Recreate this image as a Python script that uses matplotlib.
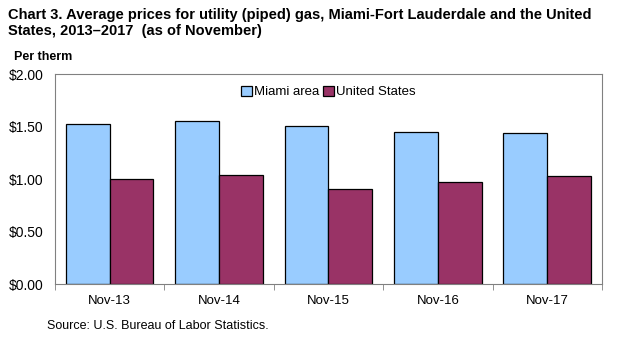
import matplotlib.pyplot as plt
import numpy as np

plt.rcParams['font.family'] = ['Liberation Sans', 'DejaVu Sans']

# data
categories = ['Nov-13', 'Nov-14', 'Nov-15', 'Nov-16', 'Nov-17']
miami = [1.524, 1.552, 1.510, 1.448, 1.438]
us = [1.000, 1.038, 0.905, 0.971, 1.029]
yticks = [0, 0.5, 1.0, 1.5, 2.0]

fig = plt.figure(figsize=(6.25, 3.38), dpi=100)
ax = fig.add_axes([0.088, 0.159, 0.875, 0.621])

x = np.arange(len(categories))
w = 0.4
ax.bar(x - w/2, miami, w, color='#99ccff', edgecolor='black', linewidth=0.9, label='Miami area')
ax.bar(x + w/2, us, w, color='#993366', edgecolor='black', linewidth=0.9, label='United States')

ax.set_xlim(-0.5, len(categories) - 0.5)
ax.set_ylim(0, 2.0)
ax.set_yticks(yticks)
ax.set_yticklabels(['$%.2f' % v for v in yticks], fontsize=10)
ax.set_xticks(x)
ax.set_xticklabels(categories, fontsize=9.5)
ax.tick_params(axis='x', length=0, pad=8)
ax.tick_params(axis='y', length=0, pad=8)

# category separator ticks on x axis
ax.set_xticks(np.arange(len(categories) + 1) - 0.5, minor=True)
ax.tick_params(axis='x', which='minor', length=4, color='#808080')

for s in ax.spines.values():
    s.set_color('#808080')

ax.legend(loc='upper center', bbox_to_anchor=(0.5, 0.99), ncol=2, frameon=False,
          fontsize=9.5, handlelength=0.8, handleheight=0.8, handletextpad=0.15,
          columnspacing=0.3, borderaxespad=0.3)

fig.text(0.013, 0.975, 'Chart 3. Average prices for utility (piped) gas, Miami-Fort Lauderdale and the United\nStates, 2013\u20132017  (as of November)',
         fontsize=10.5, fontweight='bold', va='top', ha='left', linespacing=1.15)
fig.text(0.022, 0.83, 'Per therm', fontsize=9, fontweight='bold', va='center', ha='left')
fig.text(0.075, 0.036, 'Source: U.S. Bureau of Labor Statistics.', fontsize=9, va='center', ha='left')

fig.savefig('out.png', dpi=100)
